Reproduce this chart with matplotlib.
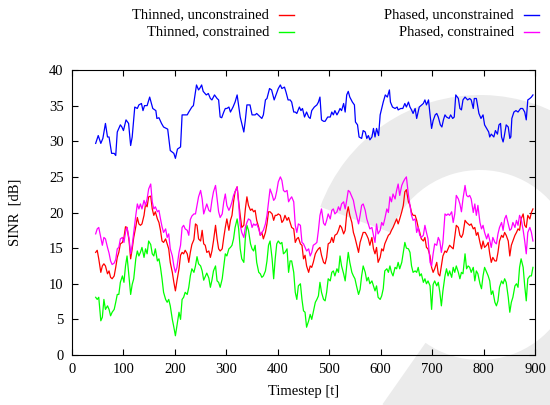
import matplotlib
matplotlib.use("Agg")
import matplotlib.pyplot as plt
from matplotlib.lines import Line2D
from matplotlib.patches import Wedge
from matplotlib.transforms import IdentityTransform

# Timesteps shared by the three lower curves
t_low = [46, 49, 52, 56, 59, 62, 65, 69, 72, 75, 78, 82, 85, 88, 91, 94, 98, 101, 104, 107,
         111, 114, 117, 120, 124, 127, 130, 133, 136, 140, 143, 146, 149, 153, 156, 159, 162, 166, 169, 172,
         175, 178, 182, 185, 188, 191, 195, 198, 201, 204, 208, 211, 214, 217, 220, 224, 227,
         230, 233, 237, 240, 243, 246, 250, 253, 256, 259, 262, 266, 269, 272, 275, 279, 282, 285, 288, 292,
         295, 298, 301, 305, 308, 311, 314, 317, 321, 324, 327, 330, 334, 337, 340, 343, 347, 350, 353, 356,
         359, 363, 366, 369, 372, 376, 379, 382, 385, 389, 392, 395, 398, 401, 405, 408, 411,
         414, 418, 421, 424, 427, 431, 434, 437, 440, 444, 447, 450, 453, 456, 460, 463, 466, 469, 473, 476,
         479, 482, 485, 489, 492, 495, 498, 502, 505, 508, 511, 515, 518, 521, 524, 528, 531, 534, 537, 540,
         544, 547, 550, 553, 557, 560, 563, 566, 570, 573, 576, 579, 583, 586, 589, 592, 595,
         599, 602, 605, 608, 612, 615, 618, 621, 624, 628, 631, 634, 637, 641, 644, 647, 650, 654, 657, 660,
         663, 667, 670, 673, 676, 679, 683, 686, 689, 692, 696, 699, 702, 705, 709, 712, 715, 718, 721, 725,
         728, 731, 734, 738, 741, 744, 747, 751, 754, 757, 760,
         764, 767, 770, 773, 776, 780, 783, 786, 789, 793, 796, 799, 802, 806, 809, 812, 815, 818, 822, 825,
         828, 831, 835, 838, 841, 844, 848, 851, 854, 857, 861, 864, 867, 870, 873, 877, 880, 883, 886, 890,
         893, 896]

phased_con = [17, 17.7, 17.9, 16.5, 15.4, 16.5, 16.3, 15.1, 14.3, 13.2, 12.7, 12.9, 13.4, 14.9, 15.1, 16.3, 16.5, 15.8, 17.2, 17.9,
              16.3, 14.2, 15.4, 17.2, 19.6, 21.2, 20.5, 21.2, 20.5, 21.7, 21, 21.9, 23.3, 24, 21.5, 20.5, 20.8, 20.1, 20.3, 19.1,
              18, 17.2, 17.7, 16.5, 17, 14.9, 13.9, 12.5, 11.6, 12.3, 14.4, 15.4, 17.9, 18.2, 17.7, 17.5, 16.8,
              19, 19.5, 19.8, 19.8, 21, 22.2, 23.1, 21.9, 19.8, 20.5, 21.2, 20.3, 20.1, 21.7, 22.9, 23.8, 21.9, 20.1, 19.3, 19.8,
              21.5, 22.6, 21, 20.3, 20.8, 21.5, 22.4, 22.9, 23.6, 21.2, 18.2, 17.2, 16.5, 17.9, 18.6, 19.1, 18.9, 17.9, 18.4, 18.2,
              18.4, 17.7, 16.8, 17.2, 17.5, 18.4, 19.6, 21.5, 23.3, 22.5, 21.7, 22, 23, 24.3, 25, 24.5, 23.1,
              22.9, 23.1, 21.5, 21.9, 22.2, 21.5, 18.2, 17.2, 18.4, 18.2, 15.8, 15.6, 15.1, 14.6, 14.9, 13.9, 14.4, 15.4, 15.6, 15.8,
              17.5, 19.6, 20.5, 18.5, 18.2, 18.9, 19.8, 19.1, 20.3, 20.5, 19.8, 20.1, 20.8, 20.3, 21.2, 21.5, 20.5, 21.7, 23.1, 22.9,
              22.2, 21.7, 20.5, 19.6, 18.4, 19.6, 21, 21.2, 20.3, 19.1, 18.4, 17.7, 17.9, 16.8, 15.8, 18.4, 17,
              17.5, 18.6, 18.2, 19.1, 20.5, 20, 22.2, 21.5, 22.6, 21.9, 23.1, 24, 22.4, 23.8, 24.3, 24.7, 25, 22.4, 21, 19.6,
              18.9, 19.1, 17.2, 17.9, 16.8, 16.5, 16.8, 18.2, 17.2, 16.3, 13, 12.5, 14.2, 15.6, 15.4, 16.5, 16, 14.4, 15.8, 19.8,
              19.6, 19.8, 19.6, 20.1, 18.6, 19.8, 22.4, 21.9, 21.2, 20.1, 21.9,
              23.8, 22.4, 22.2, 22.4, 21.9, 20, 21.2, 19.6, 21, 18.6, 17.7, 18.2, 17.2, 16.3, 17, 16.1, 15.1, 16.5, 15.8, 15.6,
              17, 17.9, 18.6, 17.5, 19.1, 19.6, 18.4, 17.5, 17.7, 18.6, 17.9, 18.9, 18.2, 19.6, 19.1, 17.5, 16, 14.2, 17.2, 17.9,
              17.2, 16]

thinned_unc = [14.4, 14.7, 13.5, 11.6, 12.5, 12.8, 12.5, 11.4, 11.8, 10.9, 10.7, 11.1, 12.3, 13.7, 14.4, 15.6, 15.8, 16.5, 18, 17.9,
               16, 13.5, 14.9, 16.5, 18, 19.3, 18.4, 18.2, 18.4, 19.6, 21.2, 20.8, 22.2, 22.3, 20.5, 19.6, 20.1, 19.1, 18.6, 17.5,
               16, 15.8, 16.3, 15.6, 14.9, 13, 11.6, 10.2, 9, 10.4, 12.1, 14, 14.4, 14.2, 14.7, 14.2, 13,
               14.4, 15.5, 16.2, 18.4, 18.2, 16.3, 16, 17.5, 15.6, 15.4, 14.4, 14.6, 13.7, 14.6, 16, 18.2, 16.3, 14.9, 14.6, 14.9,
               16.5, 17.9, 19.1, 17.5, 18.9, 19.6, 21.5, 22.9, 23.6, 21.5, 19.6, 17.9, 18.2, 20.5, 22.2, 21, 20.3, 20.5, 20.1, 20.3,
               18.9, 17.9, 16.8, 17.2, 16.3, 17.2, 18.4, 20.1, 20.1, 19.8, 18.9, 19.6, 19.6, 19.8, 19.6, 18.6, 18.9,
               19.6, 18.9, 19.3, 18.6, 17.9, 17.7, 15.8, 16.3, 16.5, 15.6, 15.4, 13.5, 14, 12.5, 11.6, 12.5, 12.3, 13, 14.2, 14.6,
               14.9, 15.1, 14, 13, 12.8, 13.7, 15.6, 15.8, 16.5, 15.8, 16.8, 17, 17.5, 18.2, 17.9, 17, 17.5, 19.8, 20.8, 19.6,
               18.6, 17.2, 16.5, 15.6, 14.4, 15.8, 16.5, 17.2, 17.2, 16.8, 16.3, 15.4, 16.5, 14.9, 14.2, 15.1, 13,
               13.7, 14.9, 14.6, 15.6, 16.3, 16.8, 17, 17.5, 17.9, 18.6, 19.1, 18.4, 19.1, 20.1, 21, 22.9, 23.2, 21.5, 21, 20,
               19.6, 19.6, 18.9, 17.9, 17.2, 16.3, 16, 16.5, 15.1, 14.9, 13.9, 12.3, 11.6, 12.1, 13, 11.4, 11.1, 12.5, 13.9, 14.6,
               14.4, 14.9, 15.4, 15.1, 14.9, 16.5, 18.2, 17.9, 16.8, 16.5, 17,
               18.9, 18.6, 18.4, 18.2, 18.4, 17.7, 17.9, 16.8, 17.2, 15.8, 14.9, 16, 15.1, 15.4, 15.8, 14.2, 13, 13.7, 13.2, 13.2,
               14.4, 16, 16.8, 16.5, 17.2, 16.8, 16, 13.9, 15.4, 16, 16.8, 17.2, 17.7, 17.5, 19.1, 19.8, 18.2, 17.9, 19.6, 19.1,
               20, 20.5]

thinned_con = [8.1, 7.8, 8.1, 4.8, 5.3, 7.8, 6.4, 6.9, 6.4, 5.5, 6, 6.4, 7.4, 8.5, 8.5, 10.2, 11.1, 10.2, 12.5, 13.9,
               10.9, 8.5, 9.9, 10.7, 13.5, 14.6, 13.9, 14.4, 15.1, 13.7, 14.9, 14.2, 16, 15.5, 14.2, 13.9, 14.9, 13.2, 13.5, 12.3,
               10.7, 8.8, 7.8, 7.4, 7.8, 6.9, 5, 3.9, 2.7, 4.1, 6, 5, 7.8, 8.1, 8.8, 8.5, 9.5,
               11.1, 12.1, 11.6, 12.5, 13.8, 12.8, 12.5, 11.8, 10.5, 11, 11.5, 10.8, 9.5, 10.5, 11.8, 12.5, 10.4, 10.2, 9.5, 10.7,
               12.5, 14.2, 13.9, 14.9, 15.1, 15.4, 16.3, 17.9, 19.1, 17.7, 14.9, 13.5, 13, 16.5, 18.2, 17.5, 15.6, 14.9, 14.6, 15.4,
               13, 11.6, 11.4, 10.9, 11.1, 11.8, 13.2, 15.4, 16, 13.5, 10.7, 13.5, 15.6, 16, 15.6, 15.8, 14.2,
               14.4, 14.9, 11.6, 13.2, 13.2, 11.6, 8.8, 7.8, 9.7, 10, 7.8, 6.2, 6, 3.9, 4.8, 5.7, 5, 6, 7.4, 7.8,
               8.3, 10.2, 8.8, 7.8, 7.6, 8.8, 10.7, 10.4, 11.6, 11.8, 11.1, 12.1, 11.6, 13.9, 12.5, 11.4, 10.4, 12.5, 14.4, 13,
               11.6, 11.1, 10.7, 9.7, 8.5, 9.2, 11.1, 12.5, 11.6, 10.4, 10.9, 10, 10.4, 9.7, 9, 9.7, 8.1,
               7.8, 8.3, 9.3, 11.8, 12.1, 11.6, 12.5, 11.6, 11.1, 12.3, 12.1, 13, 12.1, 13, 14.4, 15.8, 15, 14.9, 14.4, 12.5,
               11.6, 11.8, 11.6, 12.3, 11.1, 11.4, 10.2, 10.7, 10, 10.4, 9.7, 6.4, 9.9, 10.4, 9.7, 10.2, 8.8, 6.9, 9, 11.1,
               12.1, 11.1, 11.8, 10.9, 12.3, 11.6, 12.5, 11.6, 10.7, 11.6, 11.4,
               14.2, 12.1, 12.5, 12.3, 11.6, 12.3, 10.4, 11.8, 11.4, 10, 9.3, 11.1, 12.3, 11.6, 11.1, 10.4, 8.5, 9, 7.4, 6.9,
               7.6, 9.5, 10.4, 10, 10.7, 10.2, 8.1, 6, 7.4, 8.1, 9.7, 10, 9.5, 12.3, 13.5, 12.3, 9.7, 7.6, 10.7, 11.1,
               11.1, 12.3]

# Phased, unconstrained curve (own timesteps)
t_blue = [46, 51, 56, 60, 65, 69, 72, 77, 82, 85, 88, 94, 97, 100, 105, 110, 114, 117, 122, 127,
          130, 135, 138, 141, 146, 151, 157, 163, 165, 169, 174, 178, 186, 191, 198, 201, 205, 211, 214, 221,
          224, 227, 233, 236, 242, 246, 249, 252, 255, 261, 265, 269, 272, 277, 282, 285, 288, 291, 295, 298,
          301, 305, 308, 313, 317, 321, 324, 327, 330, 334, 337, 340, 346, 350, 356, 359, 366, 369, 372, 376,
          379, 384, 388, 393, 398, 401, 405, 408, 413, 416, 420, 424, 427, 431, 434, 437, 442, 445, 448, 452,
          456, 460, 463, 466, 471, 476, 479, 482, 485, 489, 492, 497, 502, 505, 508, 511, 515, 518, 521, 524,
          528, 531, 534, 537, 540, 545, 549, 551, 555, 558, 563, 566, 570, 573, 576, 579, 583, 586, 589, 592,
          596, 599, 605, 609, 613, 617, 619, 623, 628, 632, 634, 639, 643, 647, 650, 654, 657, 660, 663, 667,
          670, 675, 683, 686, 689, 693, 696, 699, 702, 706, 709, 712, 716, 719, 722, 725, 728, 733, 736, 740,
          743, 746, 749, 751, 754, 757, 760, 764, 769, 773, 776, 780, 782, 786, 791, 795, 799, 802, 806, 810,
          812, 815, 820, 823, 827, 830, 833, 835, 838, 840, 844, 848, 851, 853, 855, 859, 863, 867, 872, 876,
          880, 883, 886, 890, 893, 896]

phased_unc = [29.7, 30.8, 29.7, 30.4, 32.5, 30.6, 30.6, 28.3, 28.3, 28.0, 31.3, 32.3, 32, 31.5, 33, 32.5, 29.4, 30.6, 34.8, 34.6,
              35.1, 35.3, 34.3, 35, 35, 36.2, 34.6, 34.3, 33.2, 33.3, 32.5, 32, 31.7, 28.7, 28.3, 27.6, 28.9, 29.2, 33.7, 33.7,
              33.7, 34.1, 34.8, 35, 37.9, 37.2, 37.5, 37.9, 37, 36.5, 36.7, 36, 35.8, 36.5, 36, 35.8, 33.4, 33.3, 34.1, 34.6,
              34.6, 34.8, 34.1, 34.8, 35.5, 36.5, 35, 33.4, 32.5, 31.3, 33, 35.1, 35.1, 33.7, 33.7, 33.9, 33.4, 33.2, 33.7, 35.8,
              36, 37.4, 37.2, 35.8, 36.8, 37.4, 37.9, 37.4, 37.6, 36.9, 35.8, 35.8, 35.5, 34.1, 34.1, 33.9, 34.8, 34.3, 34.6, 33.4,
              34.1, 33.4, 33.2, 34.3, 34.8, 35.1, 35.5, 36.2, 33, 32.8, 32.8, 33.4, 33.4, 34.1, 33.7, 34.3, 33.7, 34.1, 34.6, 34.3,
              35.3, 34.1, 36.5, 37, 36.2, 35.5, 35.1, 32.7, 32.3, 30.6, 30.4, 31.5, 31.3, 30.4, 30.8, 30.2, 30.6, 31.8, 30.6, 31.8,
              30.8, 33.7, 35.5, 36.5, 36.2, 37.2, 35.5, 34.8, 34.6, 34.8, 34.4, 34.6, 34.6, 35.3, 34.8, 35.5, 34.8, 34.4, 33.9, 34.6,
              33.2, 34.8, 35.3, 35.8, 35.1, 35.8, 33.7, 31.8, 32.9, 33.7, 33.9, 33.4, 32.3, 32, 33, 33.7, 33.4, 33.2, 33.7, 33.2,
              33.4, 36.5, 36.2, 36, 34.6, 34.4, 35.8, 36.2, 35.8, 36, 35.8, 34.6, 36, 36, 33.9, 33.2, 33.7, 32.3, 31.8, 31.3,
              30.6, 31, 30.6, 31.5, 31, 32.3, 32.5, 30.6, 29.9, 30.6, 32.3, 32, 30.4, 30.6, 33.2, 34.1, 34.3, 34.1, 34.6, 34.6,
              34.1, 33, 35.8, 36, 36.2, 36.5]

labels = ['Thinned, unconstrained', 'Thinned, constrained',
          'Phased, unconstrained', 'Phased, constrained']
colors = ['#ff0000', '#00ff00', '#0000ff', '#ff00ff']

plt.rcParams['font.family'] = ['Liberation Serif', 'DejaVu Serif']
plt.rcParams['font.size'] = 10.5

fig = plt.figure(figsize=(5.5, 4.05), dpi=100)
ax = fig.add_axes([72 / 550, 50 / 405, 463 / 550, 285 / 405])
ax.patch.set_alpha(0)

# light gray watermark arc behind the plot
ring = Wedge((480, 140), 170, -125, 160, width=75, transform=IdentityTransform(),
             facecolor='#ebebeb', edgecolor='none', zorder=-1)
fig.add_artist(ring)

ax.plot(t_low, thinned_unc, color=colors[0], lw=0.9)
ax.plot(t_low, thinned_con, color=colors[1], lw=0.9)
ax.plot(t_blue, phased_unc, color=colors[2], lw=0.9)
ax.plot(t_low, phased_con, color=colors[3], lw=0.9)

ax.set_xlim(0, 900)
ax.set_ylim(0, 40)
ax.set_xticks(range(0, 901, 100))
ax.set_yticks(range(0, 41, 5))
ax.tick_params(direction='in', top=True, right=True, length=4, width=0.8, pad=6)
ax.set_xlabel('Timestep [t]', labelpad=6)
ax.set_ylabel('SINR  [dB]', labelpad=20)

# gnuplot-style key: text right-aligned, sample after it
key_rows = [(labels[0], colors[0], 269, 15), (labels[1], colors[1], 269, 32),
            (labels[2], colors[2], 514, 15), (labels[3], colors[3], 514, 32)]
for text, c, xr, yy in key_rows:
    fig.text(xr / 550, 1 - yy / 405, text, ha='right', va='center')
    fig.add_artist(Line2D([(xr + 10) / 550, (xr + 25) / 550], [1 - yy / 405] * 2,
                          color=c, lw=1, transform=fig.transFigure))

fig.savefig('out.png', dpi=100)
